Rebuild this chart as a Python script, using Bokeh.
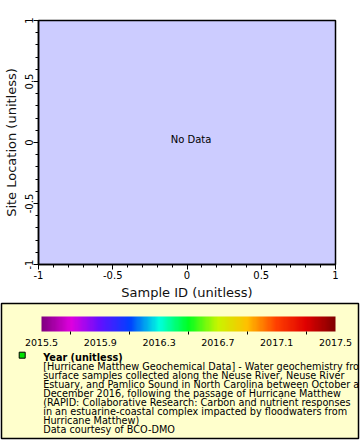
import numpy as np
from bokeh.plotting import figure
from bokeh.models import (Range1d, ColorBar, LinearColorMapper, FixedTicker,
                          SingleIntervalTicker, Label)
from bokeh.core.properties import value
from bokeh.embed import file_html
from bokeh.resources import INLINE

# ---- data / labels ----
x_range_vals = [-1, 1]
y_range_vals = [-1, 1]
x_tick_values = [-1, -0.5, 0, 0.5, 1]
x_tick_labels = ["-1", "-0.5", "0", "0.5", "1"]
y_tick_values = [-1, -0.5, 0, 0.5, 1]
y_tick_labels = ["-1", "-0.5", "0", "0.5", "1"]
x_title = "Sample ID (unitless)"
y_title = "Site Location (unitless)"
no_data_text = "No Data"

cbar_low, cbar_high = 2015.5, 2017.5
cbar_tick_values = [2015.5, 2015.9, 2016.3, 2016.7, 2017.1, 2017.5]
cbar_tick_labels = ["2015.5", "2015.9", "2016.3", "2016.7", "2017.1", "2017.5"]
cbar_minor_values = [2015.7, 2016.1, 2016.5, 2016.9, 2017.3]
cbar_stop_values = [2015.5, 2015.7, 2015.9, 2016.1, 2016.3, 2016.5, 2016.7, 2016.9, 2017.1, 2017.3, 2017.5]
cbar_stop_colors = [(128, 0, 128), (224, 0, 224), (96, 16, 255), (0, 64, 255), (0, 255, 224),
                    (0, 255, 32), (200, 245, 0), (255, 192, 0), (255, 64, 0), (224, 0, 0), (128, 0, 0)]

legend_title = "Year (unitless)"
legend_lines = [
    "[Hurricane Matthew Geochemical Data] - Water geochemistry from",
    "surface samples collected along the Neuse River, Neuse River",
    "Estuary, and Pamlico Sound in North Carolina between October and",
    "December 2016, following the passage of Hurricane Matthew",
    "(RAPID: Collaborative Research: Carbon and nutrient responses",
    "in an estuarine-coastal complex impacted by floodwaters from",
    "Hurricane Matthew)",
    "Data courtesy of BCO-DMO",
]
marker_color = "#00E000"

FONT = "DejaVu Sans"

# ---- main plot ----
p1 = figure(width=360, height=302, output_backend="svg", toolbar_location=None,
            x_range=Range1d(*x_range_vals), y_range=Range1d(*y_range_vals),
            min_border_left=37, min_border_right=25, min_border_top=20, min_border_bottom=36)
p1.background_fill_color = "#CCCCFF"
p1.border_fill_color = "white"
p1.outline_line_color = "black"
p1.outline_line_width = 1.5
p1.grid.visible = False

for ax, vals, labs, title in ((p1.xaxis[0], x_tick_values, x_tick_labels, x_title),
                              (p1.yaxis[0], y_tick_values, y_tick_labels, y_title)):
    ax.ticker = SingleIntervalTicker(interval=0.5, num_minor_ticks=5)
    ax.major_label_overrides = {v: l for v, l in zip(vals, labs)}
    ax.axis_label = title
    ax.axis_label_text_font = FONT
    ax.axis_label_text_font_size = "13px"
    ax.axis_label_text_font_style = "normal"
    ax.axis_label_text_color = "#111111"
    ax.major_label_text_font = FONT
    ax.major_label_text_font_size = "10px"
    ax.major_label_text_color = "black"
    ax.axis_line_color = "black"
    ax.axis_line_width = 1.5
    ax.major_tick_line_color = "black"
    ax.minor_tick_line_color = "black"
    ax.major_tick_out = 5
    ax.major_tick_in = 0
    ax.minor_tick_out = 3
    ax.minor_tick_in = 0
    ax.major_label_standoff = 1
    ax.axis_label_standoff = 3
p1.yaxis[0].major_label_orientation = "vertical"

p1.add_layout(Label(x=0, y=0, text=no_data_text, text_align="center", text_baseline="middle",
                    x_offset=4, y_offset=3, text_font=FONT, text_font_size="10px",
                    text_color="black"))

# ---- legend panel ----
p2 = figure(width=360, height=138, output_backend="svg", toolbar_location=None,
            x_range=Range1d(0, 357), y_range=Range1d(135, 0),
            x_axis_type=None, y_axis_type=None,
            min_border_left=1, min_border_right=2, min_border_top=1, min_border_bottom=2)
p2.background_fill_color = "#FFFFCC"
p2.border_fill_color = "white"
p2.outline_line_color = "black"
p2.outline_line_width = 1.5
p2.grid.visible = False

# palette from stops
pal = []
n = 256
vals = np.linspace(cbar_low, cbar_high, n)
sv = np.array(cbar_stop_values)
sc = np.array(cbar_stop_colors, dtype=float)
for v in vals:
    r = np.interp(v, sv, sc[:, 0]); g = np.interp(v, sv, sc[:, 1]); b = np.interp(v, sv, sc[:, 2])
    pal.append("#%02x%02x%02x" % (int(round(r)), int(round(g)), int(round(b))))

mapper = LinearColorMapper(palette=pal, low=cbar_low, high=cbar_high)
cb = ColorBar(color_mapper=mapper, orientation="horizontal", location=(40, 90),
              width=294, height=15, padding=0,
              ticker=FixedTicker(ticks=cbar_tick_values, minor_ticks=cbar_minor_values),
              major_label_overrides={v: l for v, l in zip(cbar_tick_values, cbar_tick_labels)},
              major_label_text_font=FONT, major_label_text_font_size="9.5px",
              major_label_text_color="black", label_standoff=4,
              major_tick_line_color=None, major_tick_out=0, major_tick_in=0,
              minor_tick_line_color="black", minor_tick_out=3, minor_tick_in=0,
              bar_line_color=None, background_fill_alpha=0, border_line_color=None)
p2.add_layout(cb, "center")

# marker + texts
p2.scatter(x=[20.7], y=[51.7], marker="square", size=6, fill_color=marker_color,
           line_color="black", line_width=1)
p2.text(x=[41.7], y=[53.7], text=[legend_title], text_font=value(FONT), text_font_size="9.7px",
        text_font_style="bold", text_baseline="alphabetic", text_color="black")
line_ys = [53.7 + 9.08 * (i + 1) for i in range(len(legend_lines))]
p2.text(x=[41.7] * len(legend_lines), y=line_ys, text=legend_lines, text_font=value(FONT),
        text_font_size="9.7px", text_baseline="alphabetic", text_color="black")

p1.styles = {"position": "absolute", "left": "0px", "top": "0px"}
p2.styles = {"position": "absolute", "left": "0px", "top": "302px"}

open("out.html", "w").write(file_html([p1, p2], INLINE))
